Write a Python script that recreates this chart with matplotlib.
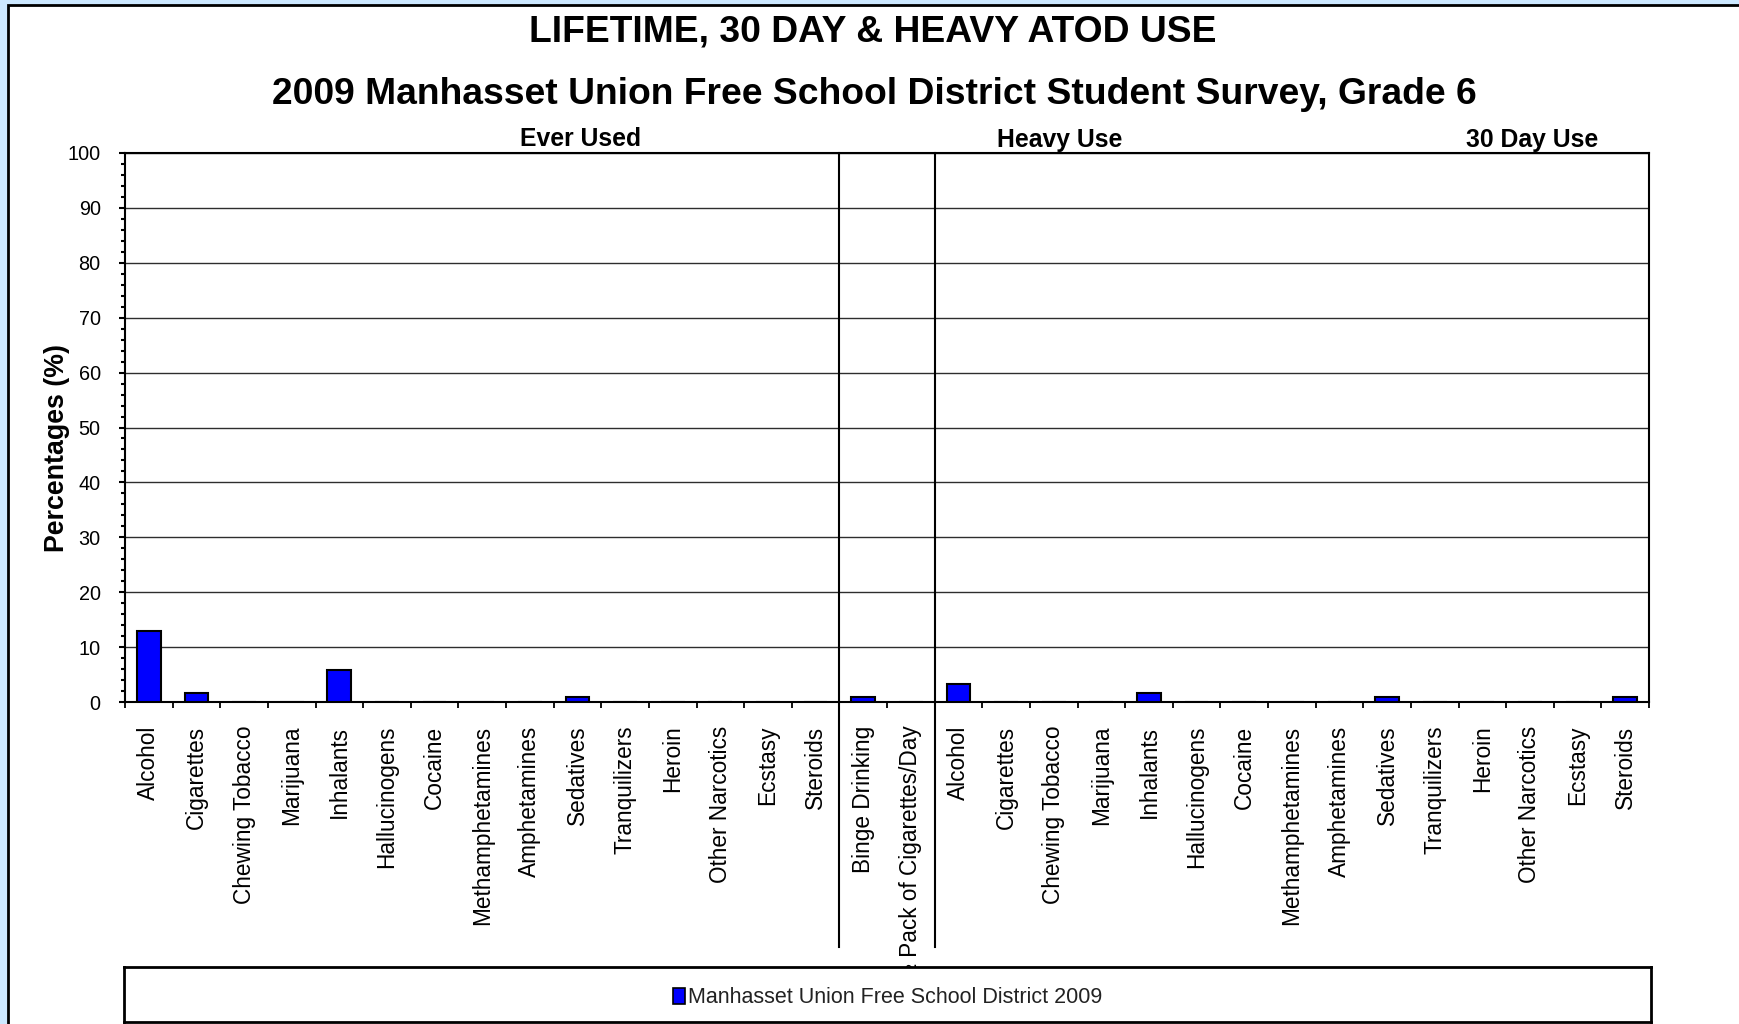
import matplotlib
matplotlib.use("Agg")
import matplotlib.pyplot as plt
import matplotlib.transforms as mtransforms
from matplotlib.patches import Rectangle, Patch
from matplotlib.ticker import MultipleLocator

plt.rcParams['font.family'] = ['Liberation Sans', 'DejaVu Sans']

substances = ["Alcohol", "Cigarettes", "Chewing Tobacco", "Marijuana", "Inhalants",
              "Hallucinogens", "Cocaine", "Methamphetamines", "Amphetamines",
              "Sedatives", "Tranquilizers", "Heroin", "Other Narcotics", "Ecstasy",
              "Steroids"]
heavy_items = ["Binge Drinking", "½ Pack of Cigarettes/Day"]

ever_used = [13.0, 1.6, 0, 0, 5.8, 0, 0, 0, 0, 0.9, 0, 0, 0, 0, 0]
heavy_use = [0.9, 0]
day30_use = [3.2, 0, 0, 0, 1.6, 0, 0, 0, 0, 0.9, 0, 0, 0, 0, 0.9]

section_labels = ["Ever Used", "Heavy Use", "30 Day Use"]
series_name = "Manhasset Union Free School District 2009"
title_1 = "LIFETIME, 30 DAY & HEAVY ATOD USE"
title_2 = "2009 Manhasset Union Free School District Student Survey, Grade 6"

categories = substances + heavy_items + substances
values = ever_used + heavy_use + day30_use

W, H = 1739, 1024
fig = plt.figure(figsize=(W / 100, H / 100), dpi=100)
fig.patch.set_facecolor('#CCE8FF')

# white chart panel with dark border, kept behind everything else
fig.patches.append(Rectangle((8 / W, -0.2), 2.0, (H - 5) / H + 0.2,
                             transform=fig.transFigure, facecolor='white',
                             edgecolor='black', linewidth=2.0, zorder=-10))

ax = fig.add_axes([125 / W, (H - 702) / H, 1524 / W, 549 / H])
ax.patch.set_alpha(0)
x = list(range(len(categories)))
ax.bar(x, values, width=0.5, color='#0000FF', edgecolor='black',
       linewidth=1.5, zorder=3)

ax.set_xlim(-0.5, len(categories) - 0.5)
ax.set_ylim(0, 100)
ax.yaxis.set_major_locator(MultipleLocator(10))
ax.yaxis.set_minor_locator(MultipleLocator(2))
ax.yaxis.grid(True, which='major', color='#2e2e2e', linewidth=1.0, zorder=1)
ax.set_axisbelow(True)

ax.set_xticks(x)
ax.set_xticklabels(categories, rotation=90, fontsize=16.3, va='top', ha='center')
ax.set_xticks([i - 0.5 for i in range(len(categories) + 1)], minor=True)
ax.tick_params(axis='x', which='major', length=0, pad=17)
ax.tick_params(axis='x', which='minor', length=4.5, width=1.3, direction='out')
ax.tick_params(axis='y', which='major', length=4.5, width=1.5, labelsize=14.3, pad=13)
ax.tick_params(axis='y', which='minor', length=3, width=1.5)

for s in ax.spines.values():
    s.set_linewidth(1.5)
    s.set_color('black')

ax.set_ylabel("Percentages (%)", fontsize=19.3, fontweight='bold')
ax.yaxis.set_label_coords(-0.036, 0.462)

# section separators running down through the category labels
trans = mtransforms.blended_transform_factory(ax.transData, ax.transAxes)
n1 = len(substances)
n2 = n1 + len(heavy_items)
for xb in (n1 - 0.5, n2 - 0.5):
    ax.plot([xb, xb], [-0.446, 1.0], transform=trans, color='black',
            linewidth=1.5, clip_on=False, zorder=4)

# section headings
for label, px in zip(section_labels, (581, 1060, 1532)):
    fig.text(px / W, 1 - 139.5 / H, label, fontsize=17.8, fontweight='bold',
             ha='center', va='center')

fig.text(873 / W, 1 - 32 / H, title_1, fontsize=26.8, fontweight='bold',
         ha='center', va='center')
fig.text(874 / W, 1 - 95 / H, title_2, fontsize=26.8, fontweight='bold',
         ha='center', va='center')

# legend box
lax = fig.add_axes([124 / W, 2 / H, 1527 / W, 55 / H])
lax.set_facecolor('white')
lax.set_xticks([])
lax.set_yticks([])
for s in lax.spines.values():
    s.set_linewidth(2.0)
    s.set_color('black')
handle = Patch(facecolor='#0000FF', edgecolor='black', linewidth=1.2)
lax.legend([handle], [series_name], loc='center', bbox_to_anchor=(0.5, 0.44),
           frameon=False, fontsize=15.5,
           handlelength=0.55, handleheight=0.75, handletextpad=0.15,
           labelcolor='#222222')

fig.savefig("out.png", dpi=100, facecolor=fig.get_facecolor())
